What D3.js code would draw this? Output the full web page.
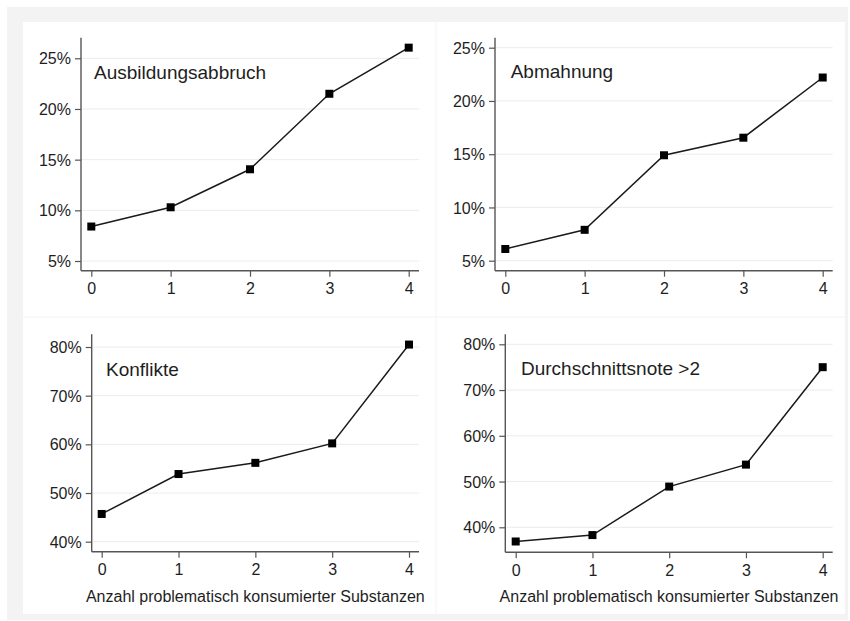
<!DOCTYPE html>
<html>
<head>
<meta charset="utf-8">
<script src="https://cdn.jsdelivr.net/npm/d3@7"></script>
<style>
  html, body { margin: 0; padding: 0; background: #ffffff; }
  svg { display: block; font-family: "Liberation Sans", Arial, sans-serif; }
</style>
</head>
<body>
<svg id="chart" width="850" height="621"></svg>
<script>
// ---- data ----
const xCategories = [0, 1, 2, 3, 4];
const panelTitles = ["Ausbildungsabbruch", "Abmahnung", "Konflikte", "Durchschnittsnote >2"];
const ausbildungsabbruch = [8.4, 10.3, 14.05, 21.5, 26.05];
const abmahnung = [6.1, 7.9, 14.9, 16.55, 22.2];
const konflikte = [45.7, 53.9, 56.2, 60.2, 80.5];
const durchschnittsnote = [36.9, 38.3, 48.9, 53.7, 75.0];
const yTicksTop = [5, 10, 15, 20, 25];
const yTicksBottom = [40, 50, 60, 70, 80];
const xAxisLabel = "Anzahl problematisch konsumierter Substanzen";

// ---- layout ----
const layout = [
  { series: ausbildungsabbruch, ticks: yTicksTop, title: panelTitles[0], showX: false,
    bg: [23, 22, 435.5, 316.5],
    xr: [91.3, 408.7], yd: [5, 25], yr: [261, 58.3], yAxis: [270.7, 37.7], ax: 81, axEnd: 419,
    titlePos: [94, 72] },
  { series: abmahnung, ticks: yTicksTop, title: panelTitles[1], showX: false,
    bg: [436.5, 22, 845, 316.5],
    xr: [505.3, 822.7], yd: [5, 25], yr: [260.7, 47.7], yAxis: [270.7, 37.7], ax: 495, axEnd: 832.7,
    titlePos: [510.7, 71] },
  { series: konflikte, ticks: yTicksBottom, title: panelTitles[2], showX: true,
    bg: [23, 317.5, 435.5, 614],
    xr: [101.7, 409], yd: [40, 80], yr: [541.7, 347], yAxis: [551.7, 334.3], ax: 91.7, axEnd: 419,
    titlePos: [106, 369] },
  { series: durchschnittsnote, ticks: yTicksBottom, title: panelTitles[3], showX: true,
    bg: [436.5, 317.5, 845, 614],
    xr: [515.7, 822.7], yd: [40, 80], yr: [527.3, 344.3], yAxis: [552.3, 334.3], ax: 505.3, axEnd: 832.7,
    titlePos: [521, 368] }
];

const svg = d3.select("#chart");
const textColor = "#1e1e1e";
const axisColor = "#555555";

// outer grey background
svg.append("rect").attr("x", 7).attr("y", 7).attr("width", 841).attr("height", 613)
  .attr("fill", "#f3f3f3");

layout.forEach(p => {
  const [x0, y0, x1, y1] = p.bg;
  svg.append("rect").attr("x", x0).attr("y", y0).attr("width", x1 - x0).attr("height", y1 - y0)
    .attr("fill", "#ffffff");

  const x = d3.scaleLinear().domain([0, 4]).range(p.xr);
  const y = d3.scaleLinear().domain(p.yd).range(p.yr);
  const g = svg.append("g");

  // gridlines
  g.selectAll("line.grid").data(p.ticks).join("line")
    .attr("class", "grid")
    .attr("x1", p.ax + 1).attr("x2", p.axEnd)
    .attr("y1", d => y(d)).attr("y2", d => y(d))
    .attr("stroke", "#ececec").attr("stroke-width", 1);

  // y axis
  const yAxisG = g.append("g").attr("transform", `translate(${p.ax},0)`)
    .call(d3.axisLeft(y).tickValues(p.ticks).tickSize(6).tickSizeOuter(0).tickFormat(d => d + "%"));
  yAxisG.select(".domain").remove();
  yAxisG.selectAll(".tick line").attr("stroke", axisColor).attr("stroke-width", 1.2);
  yAxisG.selectAll(".tick text").attr("x", -10).attr("dy", "0.35em")
    .attr("fill", textColor).style("font-size", "16px").style("font-family", "'Liberation Sans', Arial, sans-serif");
  g.append("line").attr("x1", p.ax).attr("x2", p.ax).attr("y1", p.yAxis[0]).attr("y2", p.yAxis[1])
    .attr("stroke", axisColor).attr("stroke-width", 1.4);

  // x axis
  const xAxisG = g.append("g").attr("transform", `translate(0,${p.yAxis[0]})`)
    .call(d3.axisBottom(x).tickValues(xCategories).tickSize(6).tickSizeOuter(0).tickFormat(d3.format("d")));
  xAxisG.select(".domain").remove();
  xAxisG.selectAll(".tick line").attr("stroke", axisColor).attr("stroke-width", 1.2);
  xAxisG.selectAll(".tick text").attr("y", 12).attr("dy", "0.71em")
    .attr("fill", textColor).style("font-size", "16px").style("font-family", "'Liberation Sans', Arial, sans-serif");
  g.append("line").attr("x1", p.ax).attr("x2", p.axEnd).attr("y1", p.yAxis[0]).attr("y2", p.yAxis[0])
    .attr("stroke", axisColor).attr("stroke-width", 1.4);

  if (p.showX) {
    g.append("text").attr("x", (p.ax + p.axEnd) / 2).attr("y", p.yAxis[0] + 50)
      .attr("text-anchor", "middle").attr("fill", textColor).style("font-size", "16px")
      .text(xAxisLabel);
  }

  // line
  const pts = xCategories.map((c, i) => [c, p.series[i]]);
  g.append("path").datum(pts)
    .attr("d", d3.line().x(d => x(d[0])).y(d => y(d[1])))
    .attr("fill", "none").attr("stroke", "#1a1a1a").attr("stroke-width", 1.5);

  // markers
  g.selectAll("rect.mk").data(pts).join("rect")
    .attr("class", "mk")
    .attr("x", d => x(d[0]) - 4).attr("y", d => y(d[1]) - 4)
    .attr("width", 8).attr("height", 8).attr("fill", "#000000");

  // title
  g.append("text").attr("x", p.titlePos[0]).attr("y", p.titlePos[1]).attr("dy", "0.35em")
    .attr("fill", textColor).style("font-size", "19px").text(p.title);
});
</script>
</body>
</html>
